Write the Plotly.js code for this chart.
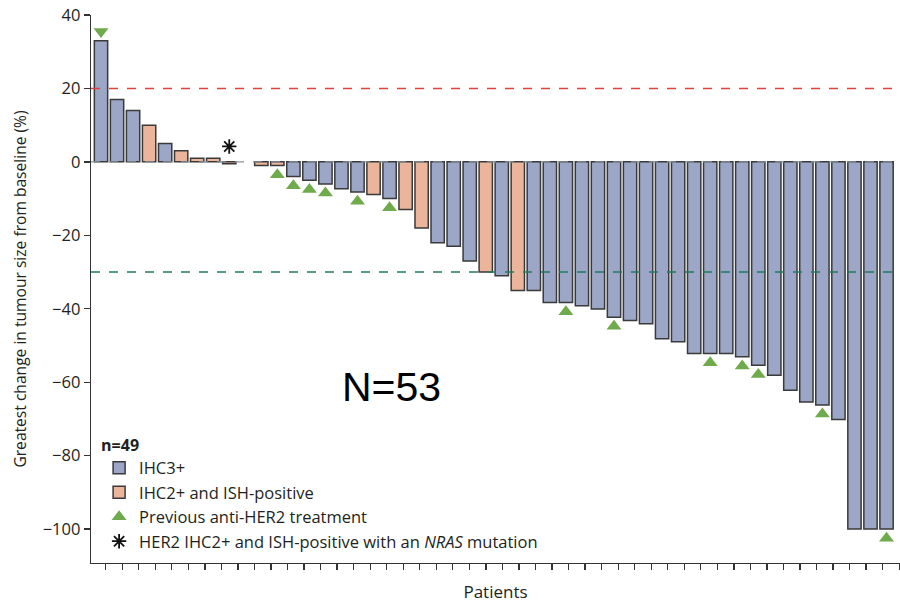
<!DOCTYPE html>
<html>
<head>
<meta charset="utf-8">
<script src="https://cdn.plot.ly/plotly-3.0.1.min.js"></script>
<style>html,body{margin:0;padding:0;background:#fff;}#chart{width:900px;height:603px;}</style>
</head>
<body>
<div id="chart"></div>
<script>
// ---- data ----
const patients = [1,2,3,4,5,6,7,8,9,10,11,12,13,14,15,16,17,18,19,20,21,22,23,24,25,26,27,28,29,30,31,32,33,34,35,36,37,38,39,40,41,42,43,44,45,46,47,48,49,50];
const change = [33, 17, 14, 10, 5, 3, 1, 1, -0.5, null, -1, -1, -4, -5, -6, -7.3, -8.2, -8.9, -10, -13,
  -18, -22, -23, -27, -30, -31, -35, -35, -38.3, -38.3, -39.2, -40.1, -42.3, -43.2, -44.1, -48.2, -49, -52.2, -52.2, -52.2,
  -53.1, -55.4, -58.1, -62.2, -65.4, -66.2, -70.2, -100, -100, -100];
const ihc2Patients = [4, 6, 7, 8, 9, 11, 12, 18, 20, 21, 25, 27];
const priorHer2Patients = [1, 12, 13, 14, 15, 17, 19, 30, 33, 39, 41, 42, 46, 50];
const nrasPatients = [9];
const yTicks = [-100, -80, -60, -40, -20, 0, 20, 40];
const refLines = {pd: 20, pr: -30};

// ---- styling ----
const blue = '#9ca6c6', orange = '#ebb59b', outline = '#3a3a3a', green = '#6fab4c';
const markOffset = 2.5;
const FONT = '"Open Sans", Lato, sans-serif';

const ihc3x = [], ihc3y = [], ihc2x = [], ihc2y = [];
patients.forEach((p, i) => {
  if (change[i] === null) return;
  if (ihc2Patients.includes(p)) { ihc2x.push(p); ihc2y.push(change[i]); }
  else { ihc3x.push(p); ihc3y.push(change[i]); }
});
const upX = [], upY = [], downX = [], downY = [];
priorHer2Patients.forEach(p => {
  const v = change[patients.indexOf(p)];
  if (v > 0) { downX.push(p); downY.push(v + markOffset); }
  else { upX.push(p); upY.push(v - markOffset); }
});
const nrasX = nrasPatients, nrasY = nrasPatients.map(p => Math.max(change[patients.indexOf(p)], 0) + 4.2);

const barLine = {color: outline, width: 1.5};
const traces = [
  {type:'bar', name:'IHC3+', x: ihc3x, y: ihc3y, width: 0.83, marker:{color: blue, line: barLine}},
  {type:'bar', name:'IHC2+ and ISH-positive', x: ihc2x, y: ihc2y, width: 0.83, marker:{color: orange, line: barLine}},
  {type:'scatter', mode:'markers', name:'Previous anti-HER2 treatment', x: upX, y: upY,
   marker:{symbol:'triangle-up', size:13, color: green}},
  {type:'scatter', mode:'markers', showlegend:false, x: downX, y: downY,
   marker:{symbol:'triangle-down', size:13, color: green}},
  {type:'scatter', mode:'markers', name:'HER2 IHC2+ and ISH-positive with an <i>NRAS</i> mutation', x: nrasX, y: nrasY,
   marker:{symbol:'asterisk-open', size:12, color:'#111', line:{color:'#111', width:1.8}}},
  {type:'scatter', x:[], y:[], xaxis:'x2', showlegend:false}
];

const dashLine = (y, color) => ({type:'line', xref:'paper', x0:0, x1:1, yref:'y', y0:y, y1:y, layer:'above',
  line:{color: color, width:1.4, dash:'dash'}});

const layout = {
  width: 900, height: 603,
  margin: {l: 91, r: 0, t: 15, b: 40},
  paper_bgcolor: '#fff', plot_bgcolor: '#fff',
  font: {family: FONT, color: '#231f20', size: 16},
  barmode: 'overlay',
  showlegend: true,
  legend: {x: 0.01, y: 0.243, xanchor: 'left', yanchor: 'top', bgcolor: 'rgba(0,0,0,0)',
    font: {family: FONT, size: 16.5, color: '#231f20'}, title: {text: '<b>n=49</b>', font: {family: FONT, size: 16}},
    traceorder: 'normal'},
  xaxis: {range: [0.376, 50.84], showticklabels: false, ticks: '', showline: false, showgrid: false, zeroline: false},
  xaxis2: {overlaying: 'x', anchor: 'y', side: 'bottom', range: [-0.889, 48.05], tick0: 0, dtick: 1,
    ticks: 'outside', ticklen: 6, tickwidth: 1.3, tickcolor: '#333', showticklabels: false,
    showline: true, linecolor: '#333', linewidth: 1.3, showgrid: false, zeroline: false,
    title: {text: 'Patients', font: {family: FONT, size: 17, color: '#231f20'}, standoff: 18}},
  yaxis: {range: [-109.25, 40], tickvals: yTicks, ticks: 'outside', ticklen: 6, tickwidth: 1.3, tickcolor: '#333',
    showline: true, linecolor: '#333', linewidth: 1.3, showgrid: false, zeroline: false,
    tickfont: {family: FONT, size: 16.5}, automargin: false,
    title: {text: 'Greatest change in tumour size from baseline (%)', font: {family: FONT, size: 15.6}, standoff: 12}},
  shapes: [
    dashLine(refLines.pd, '#e2403f'),
    dashLine(0, '#8b929c'),
    dashLine(refLines.pr, '#1f7d5c')
  ],
  annotations: [
    {xref:'paper', yref:'paper', x: 0.372, y: 0.2755, text: 'N=53', showarrow: false,
     font: {family: 'Liberation Sans, Arial, sans-serif', size: 41, color: '#000'}}
  ]
};

Plotly.newPlot('chart', traces, layout, {displayModeBar: false, staticPlot: true});
</script>
</body>
</html>
